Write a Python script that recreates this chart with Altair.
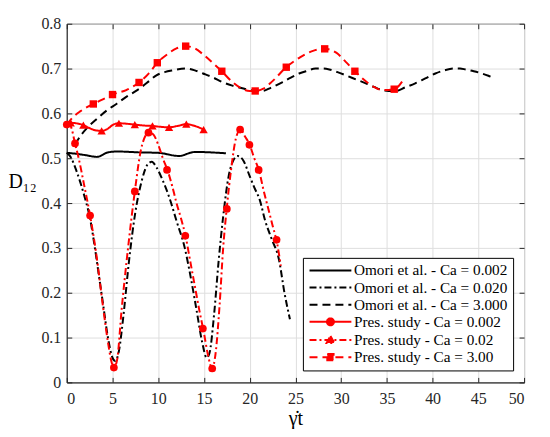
import altair as alt
import pandas as pd

# ---------------- data ----------------
series_names = [
    "Omori et al. - Ca = 0.002",
    "Omori et al. - Ca = 0.020",
    "Omori et al. - Ca = 3.000",
    "Pres. study - Ca = 0.002",
    "Pres. study - Ca = 0.02",
    "Pres. study - Ca = 3.00",
]
series_colors = ["#000000", "#000000", "#000000", "#ff0000", "#ff0000", "#ff0000"]
series_dashes = [[1, 0], [7, 3, 2, 3], [8, 5], [1, 0], [7, 3, 2, 3], [8, 5]]

# Omori et al. - Ca = 0.002 (black solid, nearly flat)
om1_x = [0, 1, 2, 3.3, 4.5, 5.5, 8, 10, 12.3, 13.5, 14, 17.4]
om1_y = [0.512, 0.510, 0.507, 0.503, 0.513, 0.515, 0.513, 0.512, 0.505, 0.512, 0.514, 0.511]

# Omori et al. - Ca = 0.020 (black dash-dot, oscillating)
om2_x = [0, 0.5, 1.0, 1.5, 2.0, 2.5, 3.0, 3.5, 4.0, 4.5, 5.0, 5.3, 5.7, 6.2, 6.8, 7.5, 8.2, 8.8,
         9.3, 9.8, 10.5, 11.25, 12.0, 12.9, 13.5, 14.2, 14.8, 15.3, 15.6, 16.1, 16.6, 17.1, 17.7,
         18.2, 18.7, 19.3, 20.0, 20.5, 21.1, 21.7, 22.4, 23.2, 23.8, 24.4]
om2_y = [0.512, 0.500, 0.475, 0.445, 0.410, 0.370, 0.310, 0.240, 0.170, 0.100, 0.055, 0.048, 0.070,
         0.150, 0.270, 0.380, 0.450, 0.485, 0.492, 0.480, 0.450, 0.410, 0.360, 0.300, 0.240, 0.160,
         0.090, 0.055, 0.065, 0.150, 0.270, 0.370, 0.460, 0.495, 0.505, 0.495, 0.460, 0.435, 0.407,
         0.360, 0.320, 0.274, 0.200, 0.141]

# Omori et al. - Ca = 3.000 (black dashed)
om3_x = [0.9, 1.5, 2.2, 3.3, 4.4, 5.5, 6.5, 7.4, 8.2, 9.0, 9.8, 10.7, 11.6, 13.0, 14.0, 14.9, 16.0,
         17.0, 18.1, 19.2, 20.0, 20.7, 21.4, 22.3, 23.6, 24.5, 25.4, 26.3, 27.2, 28.0, 28.7, 29.6,
         30.5, 31.6, 32.7, 33.6, 34.5, 35.2, 35.9, 37.0, 38.1, 39.2, 40.3, 41.3, 42.3, 43.0, 43.6,
         44.5, 45.4, 46.1, 46.8]
om3_y = [0.530, 0.550, 0.567, 0.588, 0.607, 0.622, 0.637, 0.648, 0.659, 0.672, 0.685, 0.692, 0.696,
         0.700, 0.696, 0.689, 0.680, 0.670, 0.662, 0.656, 0.652, 0.650, 0.650, 0.657, 0.670, 0.680,
         0.689, 0.695, 0.700, 0.700, 0.698, 0.692, 0.685, 0.676, 0.667, 0.659, 0.652, 0.650, 0.650,
         0.658, 0.667, 0.678, 0.689, 0.696, 0.700, 0.700, 0.698, 0.694, 0.689, 0.684, 0.678]

# Pres. study - red solid line (nearly flat), drawn with triangle markers
ps1_x = [0, 0.43, 1.0, 1.81, 2.5, 3.2, 3.81, 4.5, 5.0, 5.70, 6.5, 7.44, 8.4, 9.37, 10.3, 11.18,
         12.1, 13.07, 14.0, 14.96]
ps1_y = [0.577, 0.579, 0.578, 0.574, 0.567, 0.562, 0.561, 0.566, 0.574, 0.578, 0.577, 0.575, 0.573,
         0.572, 0.570, 0.569, 0.572, 0.576, 0.572, 0.564]
ps1_mx = [0.43, 1.81, 3.81, 5.70, 7.44, 9.37, 11.18, 13.07, 14.96]
ps1_my = [0.579, 0.574, 0.561, 0.578, 0.575, 0.572, 0.569, 0.576, 0.564]

# Pres. study - red dash-dot line (oscillating), drawn with circle markers
ps2_x = [0, 0.4, 0.9, 1.3, 1.9, 2.55, 3.2, 4.0, 4.5, 4.9, 5.15, 5.5, 6.0, 6.7, 7.44, 8.1, 8.6,
         9.0, 9.5, 10.0, 10.5, 11.0, 11.5, 12.0, 12.5, 13.0, 13.5, 14.0, 14.5, 15.0, 15.4, 15.9,
         16.3, 16.7, 17.1, 17.5, 18.0, 18.5, 19.0, 19.5, 20.0, 20.5, 21.0, 21.5, 22.0, 22.5, 23.0,
         23.4]
ps2_y = [0.575, 0.572, 0.533, 0.500, 0.440, 0.372, 0.290, 0.163, 0.090, 0.045, 0.033, 0.050, 0.163,
         0.300, 0.426, 0.518, 0.550, 0.558, 0.552, 0.530, 0.500, 0.474, 0.440, 0.400, 0.365, 0.325,
         0.270, 0.215, 0.160, 0.110, 0.065, 0.031, 0.070, 0.170, 0.300, 0.390, 0.480, 0.545, 0.564,
         0.548, 0.530, 0.500, 0.474, 0.430, 0.390, 0.350, 0.310, 0.260]
ps2_mx = [0, 0.9, 2.55, 5.15, 7.44, 8.93, 10.96, 12.96, 14.88, 15.9, 17.5, 18.95, 19.97, 20.98, 22.94]
ps2_my = [0.575, 0.533, 0.372, 0.033, 0.426, 0.557, 0.474, 0.327, 0.120, 0.031, 0.387, 0.564, 0.530,
          0.474, 0.318]

# Pres. study - red dashed line, drawn with square markers
ps3_x = [0, 0.6, 1.5, 2.9, 4.0, 5.0, 6.5, 7.9, 9.0, 9.9, 11.0, 12.0, 13.0, 14.0, 15.0, 16.0, 16.95,
         18.0, 19.0, 20.0, 20.6, 21.5, 22.5, 24.0, 25.5, 27.0, 28.2, 29.5, 30.5, 31.5, 32.5, 33.5,
         34.5, 35.8, 36.7]
ps3_y = [0.575, 0.590, 0.605, 0.621, 0.632, 0.642, 0.652, 0.669, 0.690, 0.713, 0.732, 0.745, 0.750,
         0.745, 0.730, 0.712, 0.694, 0.672, 0.657, 0.650, 0.650, 0.655, 0.672, 0.703, 0.725, 0.740,
         0.744, 0.735, 0.715, 0.694, 0.675, 0.660, 0.652, 0.654, 0.672]
ps3_mx = [2.9, 5.0, 7.9, 9.9, 13.0, 16.95, 20.6, 24.0, 28.2, 31.5, 35.8]
ps3_my = [0.621, 0.642, 0.669, 0.713, 0.750, 0.694, 0.650, 0.703, 0.744, 0.694, 0.654]

x_ticks = list(range(0, 51, 5))
y_ticks = [0, 0.1, 0.2, 0.3, 0.4, 0.5, 0.6, 0.7, 0.8]

# legend symbol shapes: a line with the marker in its middle
LINE = "M-6,0L6,0"
legend_shapes = [
    LINE,
    LINE,
    LINE,
    LINE + "M1,0A1,1,0,1,1,-1,0A1,1,0,1,1,1,0Z",
    LINE + "M0,-1.15L1.1,0.85L-1.1,0.85Z",
    LINE + "M-0.9,-0.9L0.9,-0.9L0.9,0.9L-0.9,0.9Z",
]

# ---------------- tables ----------------
line_sets = [(om1_x, om1_y), (om2_x, om2_y), (om3_x, om3_y),
             (ps1_x, ps1_y), (ps2_x, ps2_y), (ps3_x, ps3_y)]
rows = []
for name, (xs, ys) in zip(series_names, line_sets):
    for i, (a, b) in enumerate(zip(xs, ys)):
        rows.append({"series": name, "x": a, "y": b, "order": i})
lines_df = pd.DataFrame(rows)

marker_sets = [(ps1_mx, ps1_my, "triangle-up", 70), (ps2_mx, ps2_my, "circle", 60),
               (ps3_mx, ps3_my, "square", 55)]

legend_df = pd.DataFrame({"series": series_names})

FONT = "Liberation Serif, serif"
TXT = "#262626"

xscale = alt.Scale(domain=[0, 50], nice=False)
yscale = alt.Scale(domain=[0, 0.8], nice=False)

# main axes (labels, grid, titles)
x_main = alt.X("x:Q", scale=xscale, axis=alt.Axis(
    values=x_ticks, title="γ̇t", grid=True, ticks=False, labelPadding=8,
    labelFont=FONT, labelFontSize=16, labelColor=TXT, domainColor=TXT,
    gridColor="#dedede", titleFont=FONT, titleColor="black",
    titlePadding=2, titleFontSize=20, titleFontWeight="normal"))
y_main = alt.Y("y:Q", scale=yscale, axis=alt.Axis(
    values=y_ticks, format=".1~f", title="D₁₂", grid=True, ticks=False, labelPadding=6,
    labelFont=FONT, labelFontSize=16, labelColor=TXT, domainColor=TXT,
    gridColor="#dedede", titleFont=FONT, titleColor="black",
    titleAngle=0, titleAlign="left", titleBaseline="middle", titleX=-59, titleY=158,
    titleFontSize=20, titleFontWeight="normal"))


# inward tick marks (MATLAB style): tick-only axes pulled inside the frame
def tick_axis(values, orient):
    return alt.Axis(values=values, orient=orient, offset=-5, tickSize=5, ticks=True,
                    tickColor=TXT, tickWidth=1, labels=False, domain=False, grid=False, title=None)


x_in_bottom = alt.X("x:Q", scale=xscale, axis=tick_axis(x_ticks, "bottom"))
y_in_left = alt.Y("y:Q", scale=yscale, axis=tick_axis(y_ticks, "left"))
x_in_top = alt.X("x:Q", scale=xscale, axis=tick_axis(x_ticks, "top"))
y_in_right = alt.Y("y:Q", scale=yscale, axis=tick_axis(y_ticks, "right"))
x_plain = alt.X("x:Q", scale=xscale, axis=None)
y_plain = alt.Y("y:Q", scale=yscale, axis=None)

axis_pairs = [(x_main, y_main), (x_in_bottom, y_in_left), (x_in_top, y_in_right)]

layers = []
for i, (name, col, dash) in enumerate(zip(series_names, series_colors, series_dashes)):
    xe, ye = axis_pairs[i] if i < len(axis_pairs) else (x_plain, y_plain)
    layers.append(
        alt.Chart(lines_df)
        .transform_filter(alt.datum.series == name)
        .mark_line(color=col, strokeWidth=2, strokeDash=dash, interpolate="monotone")
        .encode(x=xe, y=ye, order="order:Q")
    )

for xs, ys, shp, sz in marker_sets:
    mdf = pd.DataFrame({"x": xs, "y": ys})
    layers.append(
        alt.Chart(mdf).mark_point(filled=True, color="#ff0000", size=sz, opacity=1, shape=shp)
        .encode(x=x_plain, y=y_plain)
    )


def leg():
    return alt.Legend(
        orient="none", legendX=237, legendY=235, fillColor="white", strokeColor="black",
        padding=5, labelFont=FONT, labelFontSize=15.3, labelColor="black", labelLimit=0,
        symbolSize=49, symbolStrokeWidth=2, symbolOffset=15, labelOffset=16, rowPadding=1.2,
        cornerRadius=0)


legend_layer = (
    alt.Chart(legend_df)
    .transform_filter("false")
    .mark_point(filled=True, size=49, opacity=1, strokeWidth=2)
    .encode(
        fill=alt.Fill("series:N", title=None, scale=alt.Scale(domain=series_names, range=series_colors), legend=leg()),
        stroke=alt.Stroke("series:N", title=None, scale=alt.Scale(domain=series_names, range=series_colors), legend=leg()),
        shape=alt.Shape("series:N", title=None, scale=alt.Scale(domain=series_names, range=legend_shapes), legend=leg()),
        strokeDash=alt.StrokeDash("series:N", title=None, scale=alt.Scale(domain=series_names, range=series_dashes), legend=leg()),
    )
)
layers.append(legend_layer)

chart = (
    alt.layer(*layers)
    .resolve_axis(x="independent", y="independent")
    .properties(width=459, height=360,
                autosize=alt.AutoSizeParams(type="none"),
                padding={"left": 59, "top": 15, "right": 18, "bottom": 46})
    .configure(font=FONT)
    .configure_view(stroke=TXT, strokeWidth=1)
    .configure_axis(labelFont=FONT, titleFont=FONT)
)

chart.save("out.html", embed_options={"renderer": "svg", "actions": False})
